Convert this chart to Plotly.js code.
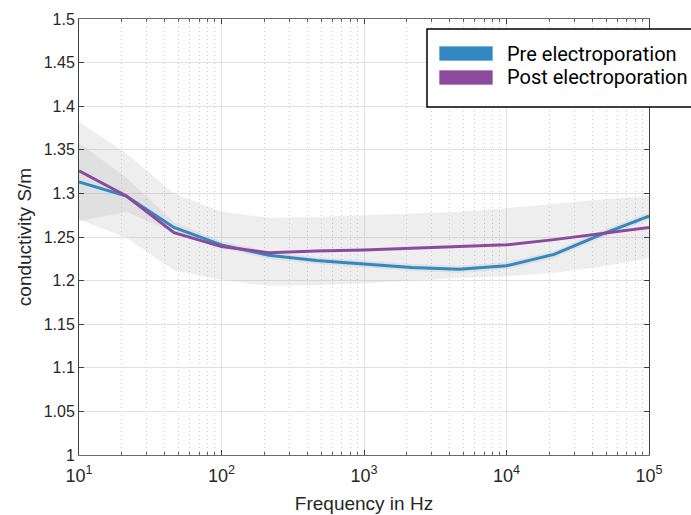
<!DOCTYPE html>
<html>
<head>
<meta charset="utf-8">
<script src="https://cdn.plot.ly/plotly-3.0.1.min.js"></script>
<style>
  html, body { margin: 0; padding: 0; background: #ffffff; }
  #chart { width: 691px; height: 515px; }
</style>
</head>
<body>
<div id="chart"></div>
<script>
// ---- data ----
const frequency = [10, 21.5, 46.4, 100, 215, 464, 1000, 2154, 4642, 10000, 21544, 46416, 100000];
const preMean   = [1.313, 1.297, 1.261, 1.241, 1.229, 1.223, 1.219, 1.215, 1.213, 1.217, 1.230, 1.253, 1.274];
const postMean  = [1.326, 1.297, 1.255, 1.239, 1.232, 1.234, 1.235, 1.237, 1.239, 1.241, 1.247, 1.254, 1.261];
const preUpper  = [1.358, 1.318, 1.267, 1.245, 1.233, 1.227, 1.223, 1.219, 1.217, 1.221, 1.234, 1.257, 1.278];
const preLower  = [1.268, 1.279, 1.255, 1.237, 1.225, 1.219, 1.215, 1.211, 1.209, 1.213, 1.226, 1.249, 1.270];
const postUpper = [1.382, 1.346, 1.300, 1.279, 1.272, 1.273, 1.275, 1.277, 1.279, 1.283, 1.288, 1.293, 1.297];
const postLower = [1.270, 1.249, 1.212, 1.201, 1.194, 1.195, 1.197, 1.200, 1.203, 1.205, 1.209, 1.216, 1.226];
const xTickVals = [10, 100, 1000, 10000, 100000];
const xTickText = ['10<sup>1</sup>', '10<sup>2</sup>', '10<sup>3</sup>', '10<sup>4</sup>', '10<sup>5</sup>'];
const seriesNames = ['Pre electroporation', 'Post electroporation'];

// ---- styling ----
const preColor = '#3388bf';
const postColor = '#8b4a9d';
const bandColor = 'rgba(170,170,170,0.2)';

// minor (2..9) tick positions for each decade
const minorVals = [];
for (let d = 1; d < 5; d++) {
  for (let k = 2; k <= 9; k++) minorVals.push(k * Math.pow(10, d));
}

// plot-area pixel geometry (for the hand-built legend)
const L = 79, R = 649, T = 19, B = 455;
const px = x => (x - L) / (R - L);
const py = y => (B - y) / (B - T);

const traces = [
  { x: frequency, y: postLower, mode: 'lines', line: { width: 0 }, hoverinfo: 'skip', showlegend: false },
  { x: frequency, y: postUpper, mode: 'lines', line: { width: 0 }, fill: 'tonexty', fillcolor: bandColor, hoverinfo: 'skip', showlegend: false },
  { x: frequency, y: preLower, mode: 'lines', line: { width: 0 }, hoverinfo: 'skip', showlegend: false },
  { x: frequency, y: preUpper, mode: 'lines', line: { width: 0 }, fill: 'tonexty', fillcolor: bandColor, hoverinfo: 'skip', showlegend: false },
  { x: frequency, y: preMean, mode: 'lines', name: seriesNames[0], line: { color: preColor, width: 3 }, showlegend: false },
  { x: frequency, y: postMean, mode: 'lines', name: seriesNames[1], line: { color: postColor, width: 3 }, showlegend: false }
];

const tickFont = { family: 'Liberation Sans, Arial, sans-serif', size: 16, color: '#262626' };
const xTickFont = { family: 'Liberation Sans, Arial, sans-serif', size: 18, color: '#262626' };
const titleFont = { family: 'Liberation Sans, Arial, sans-serif', size: 19, color: '#262626' };
const legendFont = { family: 'Roboto, Liberation Sans, sans-serif', size: 20, color: '#000000' };

const layout = {
  width: 691, height: 515,
  margin: { l: L, r: 691 - R, t: T, b: 515 - B },
  paper_bgcolor: '#ffffff', plot_bgcolor: '#ffffff',
  showlegend: false,
  xaxis: {
    type: 'log', range: [1, 5],
    tickmode: 'array', tickvals: xTickVals, ticktext: xTickText,
    ticks: 'inside', ticklen: 5, tickcolor: '#404040',
    showline: true, linecolor: '#6a6a6a', linewidth: 1, mirror: 'ticks',
    showgrid: true, gridcolor: '#e0e0e0', gridwidth: 1,
    zeroline: false,
    tickfont: xTickFont, ticklabelstandoff: 4,
    minor: { tickmode: 'array', tickvals: minorVals, ticks: 'inside', ticklen: 3, tickcolor: '#606060',
             showgrid: true, gridcolor: '#cccccc', griddash: '1px,3px', gridwidth: 1 },
    title: { text: 'Frequency in Hz', font: titleFont, standoff: 12 }
  },
  yaxis: {
    range: [1, 1.5], tick0: 1, dtick: 0.05,
    ticks: 'inside', ticklen: 5, tickcolor: '#404040',
    showline: true, linecolor: '#404040', linewidth: 1, mirror: 'ticks',
    showgrid: true, gridcolor: '#e0e0e0', gridwidth: 1,
    zeroline: false,
    tickfont: tickFont,
    title: { text: 'conductivity S/m', font: titleFont, standoff: 7 }
  },
  shapes: [
    { type: 'rect', xref: 'paper', yref: 'paper', x0: px(427), x1: px(720), y0: py(107), y1: py(29),
      line: { color: '#000000', width: 1.5 }, fillcolor: '#ffffff', layer: 'above' },
    { type: 'rect', xref: 'paper', yref: 'paper', x0: px(439), x1: px(493), y0: py(61), y1: py(46),
      line: { color: 'rgba(255,255,255,0.7)', width: 1 }, fillcolor: preColor, layer: 'above' },
    { type: 'rect', xref: 'paper', yref: 'paper', x0: px(439), x1: px(493), y0: py(85), y1: py(70),
      line: { color: 'rgba(255,255,255,0.7)', width: 1 }, fillcolor: postColor, layer: 'above' }
  ],
  annotations: [
    { xref: 'paper', yref: 'paper', x: px(505), y: py(54), xanchor: 'left', yanchor: 'middle',
      text: seriesNames[0], showarrow: false, font: legendFont },
    { xref: 'paper', yref: 'paper', x: px(505), y: py(77), xanchor: 'left', yanchor: 'middle',
      text: seriesNames[1], showarrow: false, font: legendFont }
  ]
};

Plotly.newPlot('chart', traces, layout, { displayModeBar: false, staticPlot: true });
</script>
</body>
</html>
